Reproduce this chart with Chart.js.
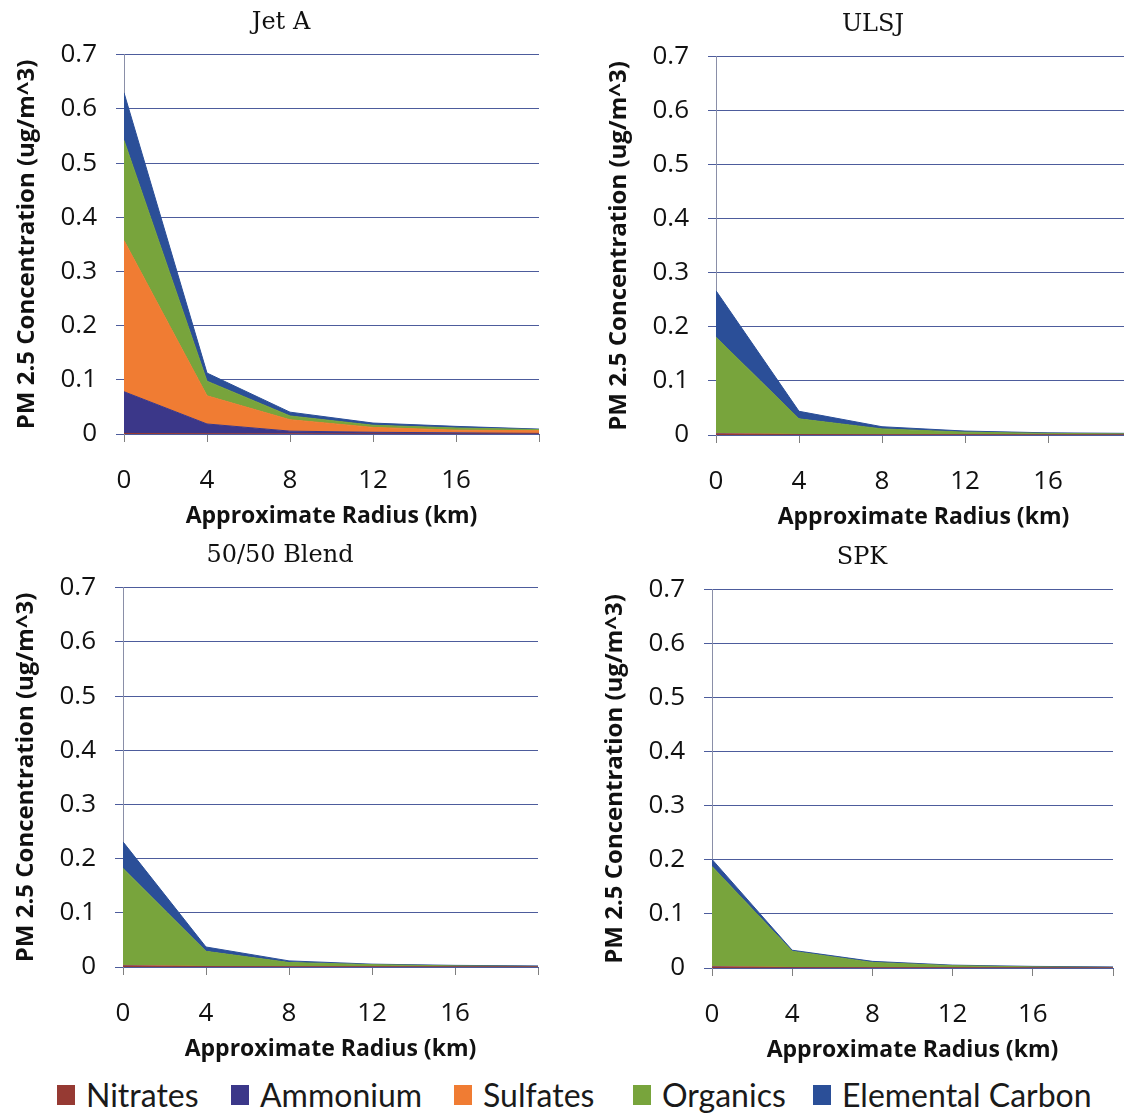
<!DOCTYPE html>
<html lang="en">
<head>
  <meta charset="UTF-8" />
  <title>PM 2.5 Concentration by Fuel</title>
  <script src="https://cdn.jsdelivr.net/npm/chart.js"></script>
  <style>
    html, body { margin: 0; padding: 0; background: #fff; }
    body { width: 1124px; height: 1113px; overflow: hidden; position: relative; }
    .panel { position: absolute; }
    .legend-item { position: absolute; top: 1075px; display: flex; align-items: center;
      font-family: Lato, 'Open Sans', sans-serif; font-size: 32px; color: #1a1a1a; white-space: nowrap; }
    .legend-item span.box { display: inline-block; width: 18px; height: 20px; margin-right: 11px; }
  </style>
</head>
<body>
  <div class="panel" id="p0"><canvas id="c0"></canvas></div>
  <div class="panel" id="p1"><canvas id="c1"></canvas></div>
  <div class="panel" id="p2"><canvas id="c2"></canvas></div>
  <div class="panel" id="p3"><canvas id="c3"></canvas></div>
  <div id="legend"></div>

  <script>
    // x positions (km) and axis ticks
    const radii = [0, 4, 8, 12, 16, 20];
    const xTickLabels = [0, 4, 8, 12, 16];
    const yTickLabels = [0, 0.1, 0.2, 0.3, 0.4, 0.5, 0.6, 0.7];

    const species = ['Nitrates', 'Ammonium', 'Sulfates', 'Organics', 'Elemental Carbon'];
    const fuels = ['Jet A', 'ULSJ', '50/50 Blend', 'SPK'];

    // Jet A
    const jetANitrates = [0.001, 0.0005, 0.0003, 0.0002, 0.0001, 0.0001];
    const jetAAmmonium = [0.077, 0.018, 0.005, 0.003, 0.002, 0.001];
    const jetASulfates = [0.279, 0.052, 0.021, 0.009, 0.005, 0.005];
    const jetAOrganics = [0.185, 0.027, 0.007, 0.004, 0.004, 0.002];
    const jetACarbon   = [0.088, 0.015, 0.007, 0.004, 0.003, 0.001];

    // ULSJ
    const ulsjNitrates = [0.001, 0.0003, 0.0001, 0.0001, 0, 0];
    const ulsjAmmonium = [0.001, 0.0003, 0.0001, 0.0001, 0, 0];
    const ulsjSulfates = [0.001, 0.0003, 0.0001, 0.0001, 0, 0];
    const ulsjOrganics = [0.178, 0.029, 0.011, 0.005, 0.003, 0.002];
    const ulsjCarbon   = [0.086, 0.014, 0.004, 0.002, 0.001, 0.001];

    // 50/50 Blend
    const blendNitrates = [0.001, 0.0003, 0.0001, 0.0001, 0, 0];
    const blendAmmonium = [0.001, 0.0003, 0.0001, 0.0001, 0, 0];
    const blendSulfates = [0.001, 0.0003, 0.0001, 0.0001, 0, 0];
    const blendOrganics = [0.179, 0.028, 0.008, 0.004, 0.002, 0.001];
    const blendCarbon   = [0.049, 0.008, 0.003, 0.001, 0.001, 0.001];

    // SPK
    const spkNitrates = [0.001, 0.0003, 0.0001, 0.0001, 0, 0];
    const spkAmmonium = [0.001, 0.0003, 0.0001, 0.0001, 0, 0];
    const spkSulfates = [0.001, 0.0003, 0.0001, 0.0001, 0, 0];
    const spkOrganics = [0.185, 0.030, 0.010, 0.004, 0.002, 0.001];
    const spkCarbon   = [0.013, 0.002, 0.002, 0.001, 0.001, 0.001];

    const seriesByFuel = [
      [jetANitrates, jetAAmmonium, jetASulfates, jetAOrganics, jetACarbon],
      [ulsjNitrates, ulsjAmmonium, ulsjSulfates, ulsjOrganics, ulsjCarbon],
      [blendNitrates, blendAmmonium, blendSulfates, blendOrganics, blendCarbon],
      [spkNitrates, spkAmmonium, spkSulfates, spkOrganics, spkCarbon]
    ];

    const colors = ['#963a33', '#3b3789', '#f07c33', '#78a43c', '#2b4f98'];

    // plot rectangles measured on the page: left, right, top, bottom
    const plotRects = [
      [124, 539, 55, 434],
      [716, 1131, 57, 435],
      [123, 538, 588, 967],
      [712, 1113, 590, 968]
    ];

    const Y_AXIS_W = 124, X_AXIS_H = 99, TOP_H = 55;
    const X_TICK_PAD = 23;   // chart.js also reserves this much on the right

    function makePanel(i) {
      const [l, r, t, b] = plotRects[i];
      const w = Y_AXIS_W + (r - l) + X_TICK_PAD;
      const h = TOP_H + (b - t) + X_AXIS_H + 2;
      const div = document.getElementById('p' + i);
      div.style.left = (l - Y_AXIS_W) + 'px';
      div.style.top = (t - TOP_H) + 'px';
      const cv = document.getElementById('c' + i);
      cv.width = w; cv.height = h;
      cv.style.width = w + 'px'; cv.style.height = h + 'px';

      const datasets = species.map((name, k) => ({
        label: name,
        data: radii.map((x, j) => ({ x: x, y: seriesByFuel[i][k][j] })),
        backgroundColor: colors[k],
        borderColor: colors[k],
        borderWidth: 1,
        pointRadius: 0,
        tension: 0,
        fill: k === 0 ? 'origin' : '-1'
      }));

      new Chart(cv, {
        type: 'line',
        data: { datasets },
        options: {
          responsive: false,
          animation: false,
          devicePixelRatio: 1,
          layout: { padding: { top: 4, right: 0, left: 0, bottom: 2 } },
          plugins: {
            legend: { display: false },
            tooltip: { enabled: false },
            title: {
              display: true,
              text: fuels[i],
              color: '#111',
              font: { family: "'DejaVu Serif', 'Liberation Serif', serif", size: 24, weight: 'normal' },
              padding: { top: 4, bottom: 18 }
            }
          },
          scales: {
            x: {
              type: 'linear',
              min: 0, max: 20,
              afterBuildTicks: (s) => { s.ticks = radii.map(v => ({ value: v })); },
              afterFit: (s) => { s.height = X_AXIS_H; },
              ticks: {
                maxRotation: 0,
                autoSkip: false,
                padding: X_TICK_PAD,
                color: '#111',
                font: { family: "'Open Sans', sans-serif", size: 26 },
                callback: (v) => xTickLabels.includes(v) ? String(v) : ''
              },
              grid: { drawOnChartArea: false, drawTicks: true, tickLength: 8, color: '#7f7f7f', lineWidth: 1 },
              border: { display: true, color: '#4d5c9c', width: 1 },
              title: {
                display: true,
                text: 'Approximate Radius (km)',
                color: '#111',
                font: { family: "'Open Sans', sans-serif", size: 23, weight: 'bold' },
                padding: { top: 0, bottom: 3 }
              }
            },
            y: {
              stacked: true,
              min: 0, max: 0.7,
              afterBuildTicks: (s) => { s.ticks = yTickLabels.map(v => ({ value: v })); },
              afterFit: (s) => { s.width = Y_AXIS_W; },
              ticks: {
                padding: 19,
                color: '#111',
                font: { family: "'Open Sans', sans-serif", size: 26 },
                callback: (v) => v === 0 ? '0' : Number(v).toFixed(1)
              },
              grid: { color: '#4d5c9c', lineWidth: 1, tickLength: 8, drawTicks: true },
              border: { display: true, color: '#8a8fa8', width: 1 },
              title: {
                display: true,
                text: 'PM 2.5 Concentration (ug/m^3)',
                color: '#111',
                font: { family: "'Open Sans', sans-serif", size: 24, weight: 'bold' },
                padding: { top: 13, bottom: 0 }
              }
            }
          }
        }
      });
    }

    for (let i = 0; i < 4; i++) makePanel(i);

    // shared legend
    const legendX = [57, 231, 454, 633, 813];
    const legend = document.getElementById('legend');
    species.forEach((name, k) => {
      const item = document.createElement('div');
      item.className = 'legend-item';
      item.style.left = legendX[k] + 'px';
      item.innerHTML = '<span class="box" style="background:' + colors[k] + '"></span>' + name;
      legend.appendChild(item);
    });
  </script>
</body>
</html>
